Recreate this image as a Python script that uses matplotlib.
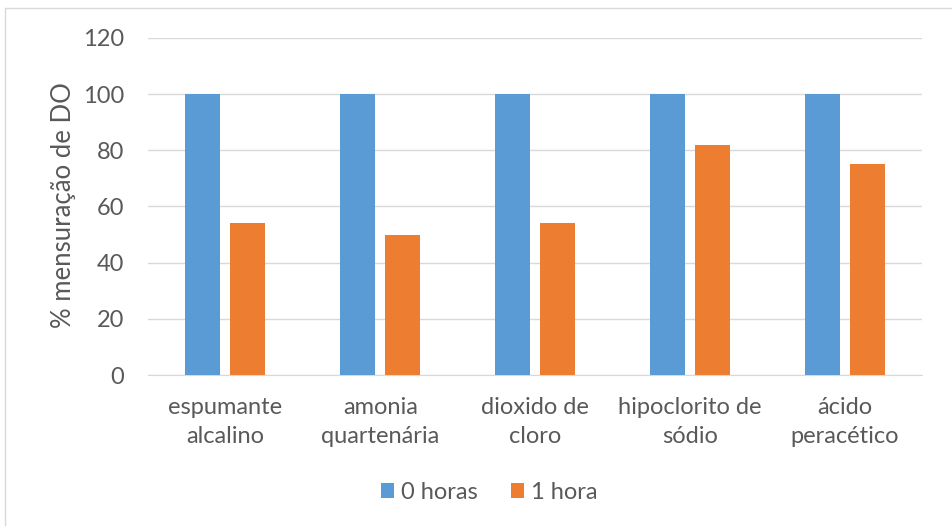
import numpy as np
import matplotlib.pyplot as plt
from matplotlib.patches import Rectangle

plt.rcParams['font.family'] = ['Lato', 'DejaVu Sans']

categories = ['espumante\nalcalino', 'amonia\nquartenária', 'dioxido de\ncloro',
              'hipoclorito de\nsódio', 'ácido\nperacético']
horas_0 = [100, 100, 100, 100, 100]
hora_1 = [54, 50, 54, 82, 75]

blue = '#5B9BD5'
orange = '#ED7D31'
text_color = '#595959'
fs = 17

fig = plt.figure(figsize=(9.52, 5.26), dpi=100)
ax = fig.add_axes([0.1555, 0.287, 0.813, 0.641])

x = np.arange(len(categories))
w = 0.226
ax.bar(x - 0.145, horas_0, w, color=blue, label='0 horas', zorder=3)
ax.bar(x + 0.145, hora_1, w, color=orange, label='1 hora', zorder=3)

ax.set_xlim(-0.5, len(categories) - 0.5)
ax.set_ylim(0, 120)
ax.set_yticks(range(0, 121, 20))
ax.yaxis.grid(True, color='#D9D9D9', linewidth=1, zorder=0)
for s in ['top', 'right', 'left']:
    ax.spines[s].set_visible(False)
ax.spines['bottom'].set_color('#D9D9D9')
ax.tick_params(axis='both', length=0, labelsize=fs, colors=text_color)
ax.tick_params(axis='y', pad=17)
ax.tick_params(axis='x', pad=16)
ax.set_xticks(x)
ax.set_xticklabels(categories, linespacing=1.45)

# axis title
fig.text(63 / 952, 1 - 205 / 526, '% mensuração de DO', rotation=90, ha='center',
         va='center', fontsize=18.5, color=text_color)

leg = fig.legend(loc='center', bbox_to_anchor=(0.514, 0.064), ncol=2, frameon=False,
                 fontsize=fs, handlelength=0.55, handleheight=0.55, handletextpad=0.3,
                 columnspacing=1.4)
for t in leg.get_texts():
    t.set_color(text_color)

# chart frame
fig.patches.append(Rectangle((0.005, -0.05), 1.2, 1.035, transform=fig.transFigure,
                             fill=False, edgecolor='#D9D9D9', linewidth=1))

fig.savefig('out.png', dpi=100)
